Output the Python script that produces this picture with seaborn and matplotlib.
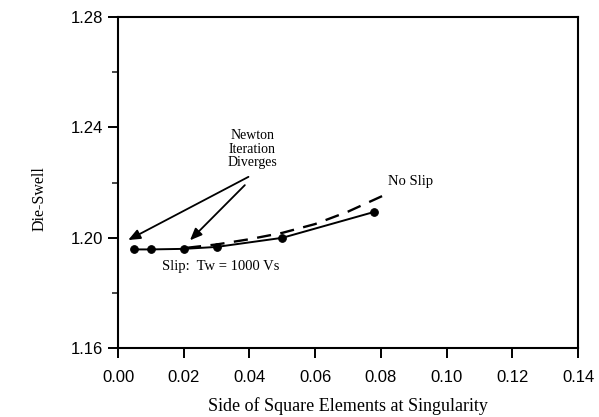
import matplotlib
matplotlib.use("Agg")
import matplotlib.pyplot as plt
import seaborn as sns
import pandas as pd
from matplotlib.ticker import MultipleLocator, FormatStrFormatter

# Slip (Tw = 1000 Vs), computed points
slip_x = [0.005, 0.010, 0.020, 0.030, 0.050, 0.078]
slip_y = [1.1958, 1.1958, 1.1960, 1.1967, 1.2000, 1.2094]

# No Slip, dashed curve
noslip_x = [0.021, 0.030, 0.040, 0.050, 0.060, 0.070, 0.082]
noslip_y = [1.1964, 1.1976, 1.1995, 1.2018, 1.2050, 1.2095, 1.2160]

sns.set_theme(style="ticks")
plt.rcParams["font.family"] = ["Liberation Sans", "DejaVu Sans"]
plt.rcParams["text.color"] = "black"

fig = plt.figure(figsize=(5.99, 4.17), dpi=100)
ax = fig.add_axes([0.197, 0.165, 0.768, 0.794])

slip = pd.DataFrame({"x": slip_x, "y": slip_y})
noslip = pd.DataFrame({"x": noslip_x, "y": noslip_y})

sns.lineplot(data=slip, x="x", y="y", ax=ax, color="black", lw=1.4,
             marker="o", markersize=5.5, markeredgecolor="black")
sns.lineplot(data=noslip, x="x", y="y", ax=ax, color="black", lw=1.7,
             dashes=False, linestyle=(0, (6, 4)))

ax.set_xlim(0, 0.14)
ax.set_ylim(1.16, 1.28)
ax.xaxis.set_major_locator(MultipleLocator(0.02))
ax.yaxis.set_major_locator(MultipleLocator(0.04))
ax.yaxis.set_minor_locator(MultipleLocator(0.02))
ax.xaxis.set_major_formatter(FormatStrFormatter("%.2f"))
ax.yaxis.set_major_formatter(FormatStrFormatter("%.2f"))

for s in ax.spines.values():
    s.set_linewidth(1.5)
    s.set_color("black")
ax.tick_params(axis="both", which="major", direction="out", length=7, width=1.4,
               labelsize=12, colors="black")
ax.tick_params(axis="y", which="minor", direction="out", length=4, width=1.2)
ax.tick_params(axis="x", pad=9)

serif = ["Liberation Serif", "DejaVu Serif"]
ax.set_xlabel("Side of Square Elements at Singularity", family=serif, fontsize=13,
              color="black")
ax.set_ylabel("Die-Swell", family=serif, fontsize=11.5, color="black")
ax.xaxis.set_label_coords(0.5, -0.148)
ax.yaxis.set_label_coords(-0.152, 0.453)

ax.text(0.0408, 1.2321, "Newton\nIteration\nDiverges", family=serif, fontsize=10,
        ha="center", va="center", linespacing=1.05)
ax.text(0.0822, 1.2203, "No Slip", family=serif, fontsize=10.5, ha="left", va="center")
ax.text(0.0134, 1.1895, "Slip:  Tw = 1000 Vs", family=serif, fontsize=10.5,
        ha="left", va="center")

arrow = dict(arrowstyle="-|>,head_length=0.6,head_width=0.25", color="black", lw=1.3,
             shrinkA=0, shrinkB=0)
ax.annotate("", xy=(0.0031, 1.1992), xytext=(0.0397, 1.2221), arrowprops=arrow)
ax.annotate("", xy=(0.0219, 1.1991), xytext=(0.0386, 1.2191), arrowprops=arrow)

fig.savefig("out.png", dpi=100)
